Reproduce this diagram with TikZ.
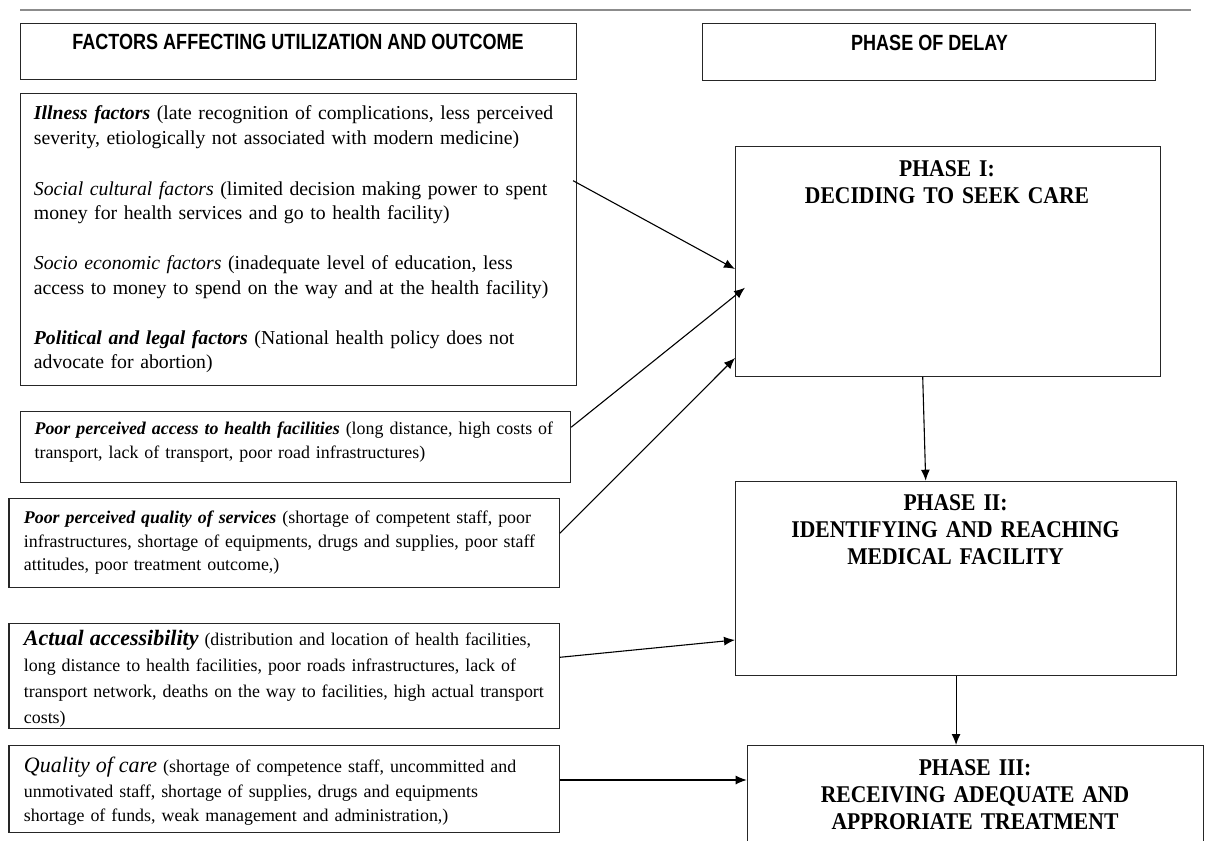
\documentclass[tikz,border=0pt]{standalone}
\usepackage{fontspec}
\setmainfont{Liberation Serif}
\newfontfamily\hdrfont[FakeStretch=0.82]{Liberation Sans}
\newfontfamily\phfont[FakeStretch=0.9]{Liberation Serif}
\usetikzlibrary{arrows.meta,calc}
\begin{document}
\begin{tikzpicture}[x=1pt,y=-1pt,
  frame/.style={draw=black!85, line width=1.1pt, anchor=north west, inner sep=0pt},
  hdr/.style={anchor=base, inner sep=0pt, font=\hdrfont\bfseries\fontsize{22}{26}\selectfont},
  bodyA/.style={anchor=base west, inner sep=0pt, align=left, text width=580pt, font=\fontsize{19.75}{24.2}\selectfont},
  bodyB/.style={anchor=base west, inner sep=0pt, align=left, text width=580pt, font=\fontsize{17.9}{23.5}\selectfont},
  phase/.style={anchor=base, inner sep=0pt, align=center, text width=440pt, font=\phfont\bfseries\fontsize{24}{27}\selectfont},
  conn/.style={draw=black, line width=1.1pt, -{Latex[length=11pt,width=9pt]}}]
\useasboundingbox (0,0) rectangle (1206,840);
\clip (0,0) rectangle (1206,840);

% top rule
\coordinate (ruleL) at (20,10);
\coordinate (ruleR) at (1191,10);
\draw[black!45, line width=2pt] (ruleL) -- (ruleR);

% headers
\node[frame, minimum width=556pt, minimum height=56.6pt] (h1) at (20,22.7) {};
\node[hdr] (h1t) at (298,50) {FACTORS AFFECTING UTILIZATION AND OUTCOME};
\node[frame, minimum width=453pt, minimum height=57.3pt] (h2) at (702,22.7) {};
\node[hdr] (h2t) at (929.5,51) {PHASE OF DELAY};

% left boxes
\node[frame, minimum width=556pt, minimum height=291.7pt] (b1) at (20,93.3) {};
\node[bodyA] (b1t) at (33.7,120) {\textbf{\textit{Illness factors}} (late recognition of complications, less perceived\\
severity, etiologically not associated with modern medicine)\\[27pt]
\textit{Social cultural factors} (limited decision making power to spent\\
money for health services and go to health facility)\\[26pt]
\textit{Socio economic factors} (inadequate level of education, less\\
access to money to spend on the way and at the health facility)\\[26pt]
\textbf{\textit{Political and legal factors}} (National health policy does not\\
advocate for abortion)};

\node[frame, minimum width=550pt, minimum height=71pt] (b2) at (20,410.7) {};
\node[bodyB] (b2t) at (34.4,434.5) {\textbf{\textit{Poor perceived access to health facilities}} (long distance, high costs of\\
transport, lack of transport, poor road infrastructures)};

\node[frame, minimum width=550.3pt, minimum height=89pt] (b3) at (8.4,498.3) {};
\node[bodyB] (b3t) at (23.7,523.5) {\textbf{\textit{Poor perceived quality of services}} (shortage of competent staff, poor\\
infrastructures, shortage of equipments, drugs and supplies, poor staff\\
attitudes, poor treatment outcome,)};

\node[frame, minimum width=550.3pt, minimum height=105pt] (b4) at (8.4,622.7) {};
\node[bodyB, font=\fontsize{17.9}{26}\selectfont] (b4t) at (23.7,645.5) {{\fontsize{22}{26}\selectfont\textbf{\textit{Actual accessibility}}} (distribution and location of health facilities,\\
long distance to health facilities, poor roads infrastructures, lack of\\
transport network, deaths on the way to facilities, high actual transport\\
costs)};

\node[frame, minimum width=550.3pt, minimum height=87.3pt] (b5) at (8.4,745) {};
\node[bodyB, font=\fontsize{17.9}{24.5}\selectfont] (b5t) at (23.7,772.5) {{\fontsize{22}{25}\selectfont\textit{Quality of care}} (shortage of competence staff, uncommitted and\\
unmotivated staff, shortage of supplies, drugs and equipments\\
shortage of funds, weak management and administration,)};

% phase boxes
\node[frame, minimum width=424.5pt, minimum height=230pt] (p1) at (735,145.7) {};
\node[phase] (p1t) at (947,176) {PHASE I:\\DECIDING TO SEEK CARE};
\node[frame, minimum width=441pt, minimum height=194.3pt] (p2) at (735,480.7) {};
\node[phase] (p2t) at (955.5,510) {PHASE II:\\IDENTIFYING AND REACHING\\MEDICAL FACILITY};
\node[frame, minimum width=456.3pt, minimum height=160pt] (p3) at (746.7,745) {};
\node[phase] (p3t) at (975,775) {PHASE III:\\RECEIVING ADEQUATE AND\\APPRORIATE TREATMENT};

% connectors
\draw[conn] ($(b1.north east)+(-4,87.4)$) -- ($(p1.north west)+(0,123.3)$);
\draw[conn] ($(b2.north east)+(0,16.6)$) -- ($(p1.north west)+(10,142)$);
\draw[conn] ($(b3.north east)+(0,35)$) -- ($(p1.north west)+(0,212.3)$);
\draw[conn] ($(b4.north east)+(0,34.6)$) -- ($(p2.north west)+(0,159.3)$);
\draw[conn] ($(b5.north east)+(0,35)$) -- ($(p3.north west)+(0,35)$);
\draw[conn] ($(p1.south west)+(187.7,0)$) -- ($(p2.north west)+(190.7,0)$);
\draw[conn] (p2.south) -- (p2.south |- p3.north);
\end{tikzpicture}
\end{document}
